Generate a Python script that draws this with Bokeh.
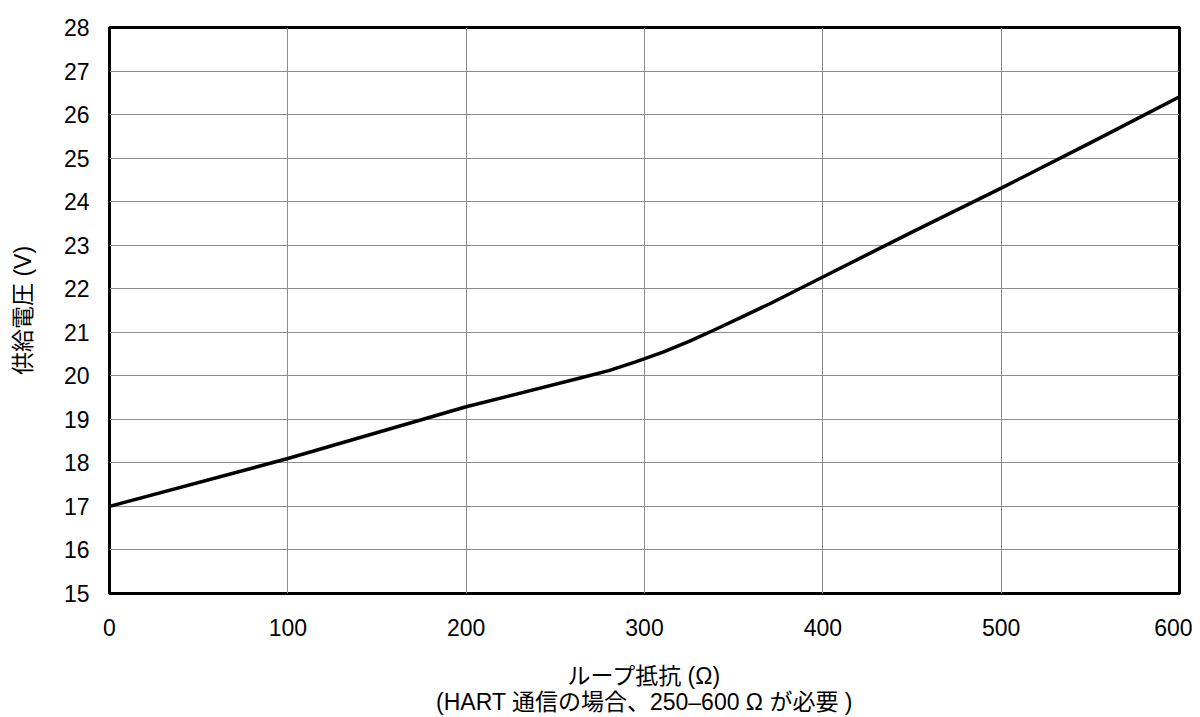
from bokeh.plotting import figure
from bokeh.models import Range1d, FixedTicker
from bokeh.embed import file_html
from bokeh.resources import INLINE

# Data
loop_resistance = [0, 100, 200, 265, 280, 295, 310, 325, 340, 355, 370, 385, 400, 450, 500, 550, 600]
supply_voltage = [17.0, 18.1, 19.29, 19.96, 20.12, 20.32, 20.54, 20.79, 21.07, 21.36, 21.65, 21.96, 22.27,
                  23.3, 24.31, 25.35, 26.41]
x_ticks = [0, 100, 200, 300, 400, 500, 600]
y_ticks = list(range(15, 29))
x_title_lines = ["ループ抵抗 (Ω)", "(HART 通信の場合、250–600 Ω が必要 )"]
y_title = "供給電圧 (V)"

FONT = "'Liberation Sans', Arial, 'Noto Sans CJK JP'"

p = figure(width=1192, height=717, output_backend="svg", toolbar_location=None,
           x_range=Range1d(0, 600), y_range=Range1d(15, 28),
           min_border_left=109, min_border_right=13, min_border_top=27, min_border_bottom=124)

p.line(loop_resistance, supply_voltage, line_color="black", line_width=3.5,
       line_join="round")

p.outline_line_color = "black"
p.outline_line_width = 3
p.outline_line_alpha = 1

for ax in (p.xaxis[0], p.yaxis[0]):
    ax.axis_line_color = None
    ax.major_tick_line_color = None
    ax.minor_tick_line_color = None
    ax.major_label_text_font = FONT
    ax.major_label_text_font_size = "23px"
    ax.major_label_text_color = "black"
    ax.axis_label_text_font = FONT
    ax.axis_label_text_font_size = "23px"
    ax.axis_label_text_font_style = "normal"
    ax.axis_label_text_color = "black"
    ax.axis_label_text_line_height = 1.0

p.xaxis.ticker = FixedTicker(ticks=x_ticks)
p.yaxis.ticker = FixedTicker(ticks=y_ticks)
p.xaxis.major_label_standoff = 19
p.yaxis.major_label_standoff = 14
p.xaxis.axis_label = "\n".join(x_title_lines)
p.xaxis.axis_label_standoff = 24
p.yaxis.axis_label = y_title
p.yaxis.axis_label_standoff = 25

p.xgrid.ticker = FixedTicker(ticks=x_ticks)
p.ygrid.ticker = FixedTicker(ticks=y_ticks)
p.grid.grid_line_color = "#8c8c8c"
p.grid.grid_line_width = 1

p.background_fill_color = "white"
p.border_fill_color = "white"

open("out.html", "w").write(file_html(p, INLINE))
